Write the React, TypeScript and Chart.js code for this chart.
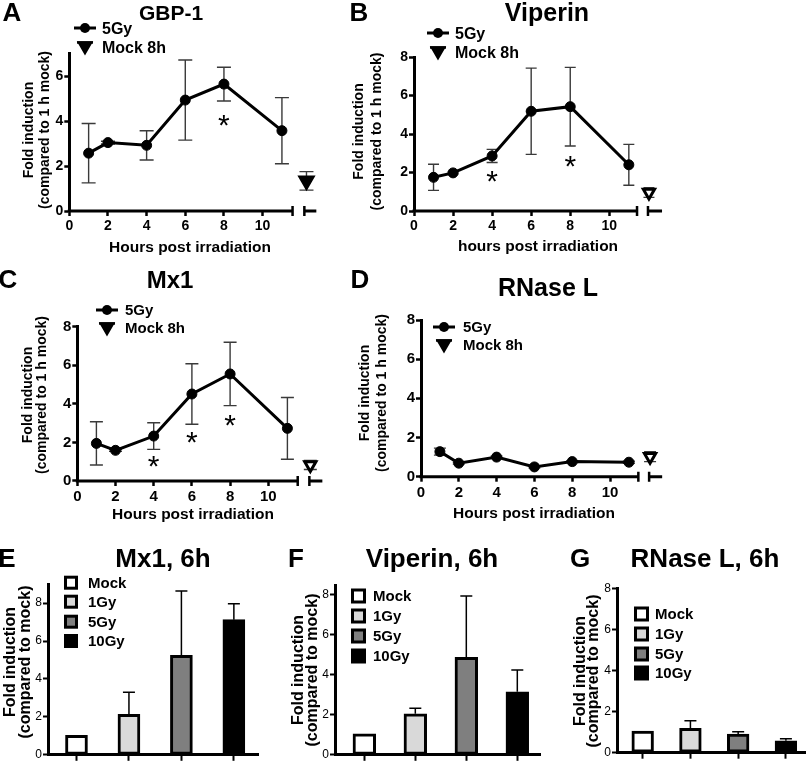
import React, { useEffect, useRef } from 'react';
import { Chart, registerables } from 'chart.js';

Chart.register(...registerables);

const PAGE_W = 812;
const PAGE_H = 763;
const SANS = '"Liberation Sans", Arial, Helvetica, sans-serif';
const NARROW = '"Liberation Sans Narrow", "Arial Narrow", "Liberation Sans", Arial, sans-serif';

// ---------------- data ----------------
const hours = [1, 2, 4, 6, 8, 11];
const hourTicks = [0, 2, 4, 6, 8, 10];
const foldTicks7 = [0, 2, 4, 6];
const foldTicks8 = [0, 2, 4, 6, 8];

const gbp1Mean = [2.57, 3.04, 2.92, 4.93, 5.64, 3.57];
const gbp1Sd = [1.32, 0.06, 0.65, 1.78, 0.75, 1.47];
const gbp1Mock = 1.34;
const gbp1MockSd = 0.41;
const gbp1StarX = [8];
const gbp1StarY = [4.13];

const viperinMean = [1.75, 1.98, 2.86, 5.18, 5.42, 2.4];
const viperinSd = [0.68, 0.05, 0.34, 2.24, 2.04, 1.06];
const viperinMock = 0.96;
const viperinMockSd = 0.25;
const viperinStarX = [4, 8];
const viperinStarY = [1.96, 2.74];

const mx1Mean = [1.95, 1.59, 2.33, 4.51, 5.55, 2.73];
const mx1Sd = [1.12, 0.05, 0.69, 1.57, 1.64, 1.6];
const mx1Mock = 0.83;
const mx1MockSd = 0.23;
const mx1StarX = [4, 6, 8];
const mx1StarY = [1.17, 2.4, 3.3];

const rnaseMean = [1.28, 0.69, 1.0, 0.5, 0.77, 0.74];
const rnaseSd = [0.18, 0.05, 0.05, 0.05, 0.05, 0.05];
const rnaseMock = 1.02;
const rnaseMockSd = 0.25;
const rnaseStarX: number[] = [];
const rnaseStarY: number[] = [];

const doseLabels = ['Mock', '1Gy', '5Gy', '10Gy'];
const doseColors = ['#ffffff', '#d9d9d9', '#7f7f7f', '#000000'];
const mx1DoseMean = [1.03, 2.14, 5.25, 7.13];
const mx1DoseSd = [0, 1.16, 3.39, 0.84];
const viperinDoseMean = [1.05, 2.05, 4.88, 3.15];
const viperinDoseSd = [0, 0.28, 3.07, 1.1];
const rnaseDoseMean = [1.05, 1.18, 0.91, 0.58];
const rnaseDoseSd = [0, 0.38, 0.11, 0.1];

// ---------------- text helpers ----------------
function capText(ctx: CanvasRenderingContext2D, s: string, x: number, cy: number, size: number, weight: string, align: CanvasTextAlign, family = SANS) {
  ctx.save();
  ctx.font = `${weight} ${size}px ${family}`;
  ctx.fillStyle = '#000';
  ctx.textAlign = align;
  ctx.textBaseline = 'alphabetic';
  ctx.fillText(s, x, cy + size * 0.358);
  ctx.restore();
}

function vText(ctx: CanvasRenderingContext2D, s: string, cx: number, cy: number, size: number, ink: number, family = SANS) {
  ctx.save();
  ctx.translate(cx + ink * size, cy);
  ctx.rotate(-Math.PI / 2);
  ctx.font = `bold ${size}px ${family}`;
  ctx.fillStyle = '#000';
  ctx.textAlign = 'center';
  ctx.textBaseline = 'alphabetic';
  ctx.fillText(s, 0, 0);
  ctx.restore();
}

function star(ctx: CanvasRenderingContext2D, x: number, cy: number) {
  const size = 30;
  ctx.save();
  ctx.font = `normal ${size}px ${SANS}`;
  ctx.fillStyle = '#000';
  ctx.textAlign = 'center';
  ctx.textBaseline = 'alphabetic';
  ctx.fillText('*', x, cy + size * 0.575);
  ctx.restore();
}

function downTriangle(ctx: CanvasRenderingContext2D, x: number, y: number, r: number, fill: string) {
  ctx.beginPath();
  ctx.moveTo(x - r * 0.866, y - r / 2);
  ctx.lineTo(x + r * 0.866, y - r / 2);
  ctx.lineTo(x, y + r);
  ctx.closePath();
  ctx.fillStyle = fill;
  ctx.fill();
  ctx.lineWidth = 3;
  ctx.strokeStyle = '#000';
  ctx.stroke();
}

// ---------------- panel layouts ----------------
type LinePanel = {
  letter: string; letterX: number; letterY: number;
  title: string; titleX: number; titleY: number; titleSize: number;
  left: number; perHour: number; xMax: number; top: number; bottom: number; yMax: number;
  yTicks: number[];
  breakAt: number; mockStart: number; mockX: number; capW: number; mockR: number; mockFill: string;
  legX: number; legTextX: number; legY1: number; legY2: number; legSize: number;
  yt1: number; yt2: number; ytY: number; ytSize: number;
  xTitle: string; xtX: number; xtY: number; xtSize: number;
  tickSize: number;
  mean: number[]; sd: number[]; mock: number; mockSd: number; starX: number[]; starY: number[];
};

const linePanels: LinePanel[] = [
  {
    letter: 'A', letterX: 12, letterY: 12, title: 'GBP-1', titleX: 171, titleY: 12, titleSize: 21,
    left: 69.3, perHour: 19.33, xMax: 12.78, top: 53.5, bottom: 211, yMax: 7, yTicks: foldTicks7,
    breakAt: 11.55, mockStart: 12.16, mockX: 12.27, capW: 14, mockR: 7.5, mockFill: '#000',
    legX: 85, legTextX: 102, legY1: 28, legY2: 47, legSize: 16,
    yt1: 27.5, yt2: 45, ytY: 130, ytSize: 14,
    xTitle: 'Hours post irradiation', xtX: 190, xtY: 246, xtSize: 15.5, tickSize: 14,
    mean: gbp1Mean, sd: gbp1Sd, mock: gbp1Mock, mockSd: gbp1MockSd, starX: gbp1StarX, starY: gbp1StarY,
  },
  {
    letter: 'B', letterX: 359, letterY: 12, title: 'Viperin', titleX: 547, titleY: 12, titleSize: 25,
    left: 414, perHour: 19.53, xMax: 12.7, top: 57, bottom: 211, yMax: 8, yTicks: foldTicks8,
    breakAt: 11.42, mockStart: 11.98, mockX: 12.03, capW: 11, mockR: 6.5, mockFill: '#fff',
    legX: 438, legTextX: 455, legY1: 33, legY2: 52, legSize: 16,
    yt1: 358, yt2: 377, ytY: 131.5, ytSize: 14,
    xTitle: 'hours post irradiation', xtX: 538, xtY: 245, xtSize: 15.5, tickSize: 14,
    mean: viperinMean, sd: viperinSd, mock: viperinMock, mockSd: viperinMockSd, starX: viperinStarX, starY: viperinStarY,
  },
  {
    letter: 'C', letterX: 8, letterY: 279, title: 'Mx1', titleX: 170, titleY: 279, titleSize: 24,
    left: 77.3, perHour: 19.1, xMax: 12.83, top: 326.7, bottom: 481, yMax: 8, yTicks: foldTicks8,
    breakAt: 11.54, mockStart: 12.15, mockX: 12.2, capW: 13, mockR: 6.5, mockFill: '#fff',
    legX: 107, legTextX: 125, legY1: 310, legY2: 328, legSize: 15,
    yt1: 26.5, yt2: 42.5, ytY: 395, ytSize: 14,
    xTitle: 'Hours post irradiation', xtX: 193, xtY: 513, xtSize: 15.5, tickSize: 15,
    mean: mx1Mean, sd: mx1Sd, mock: mx1Mock, mockSd: mx1MockSd, starX: mx1StarX, starY: mx1StarY,
  },
  {
    letter: 'D', letterX: 360, letterY: 279, title: 'RNase L', titleX: 548, titleY: 287, titleSize: 25,
    left: 421, perHour: 18.9, xMax: 12.76, top: 320, bottom: 476.7, yMax: 8, yTicks: foldTicks8,
    breakAt: 11.5, mockStart: 12.07, mockX: 12.12, capW: 12, mockR: 6.5, mockFill: '#fff',
    legX: 444, legTextX: 463, legY1: 327, legY2: 345, legSize: 15,
    yt1: 363.5, yt2: 382, ytY: 393, ytSize: 14,
    xTitle: 'Hours post irradiation', xtX: 534, xtY: 512, xtSize: 15.5, tickSize: 15,
    mean: rnaseMean, sd: rnaseSd, mock: rnaseMock, mockSd: rnaseMockSd, starX: rnaseStarX, starY: rnaseStarY,
  },
];

type BarPanel = {
  letter: string; letterX: number; letterY: number;
  title: string; titleX: number; titleY: number;
  left: number; right: number; top: number; bottom: number; yMax: number;
  xMin: number; xMax: number; barW: number;
  boxX: number; boxSize: number; legTextX: number; rows: number[];
  yt1: number; yt2: number; ytY: number;
  mean: number[]; sd: number[];
};

const barPanels: BarPanel[] = [
  {
    letter: 'E', letterX: 7, letterY: 558, title: 'Mx1, 6h', titleX: 163, titleY: 558,
    left: 48, right: 258, top: 584.2, bottom: 756.7, yMax: 9, xMin: -0.543, xMax: 3.46, barW: 22,
    boxX: 64, boxSize: 14, legTextX: 88, rows: [582.7, 601.7, 621.7, 641],
    yt1: 9, yt2: 26, ytY: 662, mean: mx1DoseMean, sd: mx1DoseSd,
  },
  {
    letter: 'F', letterX: 296, letterY: 558, title: 'Viperin, 6h', titleX: 432, titleY: 558,
    left: 335, right: 540, top: 585, bottom: 755, yMax: 8.5, xMin: -0.575, xMax: 3.445, barW: 22.7,
    boxX: 351, boxSize: 15, legTextX: 373, rows: [596, 616, 636, 656],
    yt1: 297.5, yt2: 312.5, ytY: 670, mean: viperinDoseMean, sd: viperinDoseSd,
  },
  {
    letter: 'G', letterX: 580, letterY: 558, title: 'RNase L, 6h', titleX: 705, titleY: 558,
    left: 617, right: 805, top: 588.3, bottom: 752.7, yMax: 8, xMin: -0.538, xMax: 3.4, barW: 21.7,
    boxX: 634, boxSize: 15, legTextX: 655, rows: [614, 634, 654, 673],
    yt1: 579, yt2: 594, ytY: 671, mean: rnaseDoseMean, sd: rnaseDoseSd,
  },
];

// ---------------- chart builders ----------------
function makeLine(canvas: HTMLCanvasElement, p: LinePanel): Chart {
  const right = p.left + p.xMax * p.perHour;
  const yAxisW = 45;
  const xAxisH = 40;
  const deco = {
    id: 'deco' + p.letter,
    beforeDatasetsDraw(chart: any) {
      const { ctx, chartArea } = chart;
      const xs = chart.scales.x;
      const ys = chart.scales.y;
      ctx.save();
      // broken x axis
      const yb = chartArea.bottom;
      const x0 = xs.getPixelForValue(0) - 1.5;
      const xb = xs.getPixelForValue(p.breakAt);
      const xm = xs.getPixelForValue(p.mockStart);
      const xe = xs.getPixelForValue(p.xMax);
      ctx.strokeStyle = '#000';
      ctx.lineWidth = 3;
      ctx.beginPath();
      ctx.moveTo(x0, yb); ctx.lineTo(xb, yb);
      ctx.moveTo(xm, yb); ctx.lineTo(xe, yb);
      ctx.stroke();
      ctx.lineWidth = 2.5;
      ctx.beginPath();
      ctx.moveTo(xb, yb - 5); ctx.lineTo(xb, yb + 5);
      ctx.moveTo(xm, yb - 5); ctx.lineTo(xm, yb + 5);
      ctx.stroke();
      // error bars
      ctx.strokeStyle = '#3a3a3a';
      ctx.lineWidth = 1.4;
      const bar = (xv: number, m: number, s: number) => {
        const px = xs.getPixelForValue(xv);
        const t = ys.getPixelForValue(m + s);
        const b = ys.getPixelForValue(m - s);
        ctx.beginPath();
        ctx.moveTo(px, t); ctx.lineTo(px, b);
        ctx.moveTo(px - p.capW / 2, t); ctx.lineTo(px + p.capW / 2, t);
        ctx.moveTo(px - p.capW / 2, b); ctx.lineTo(px + p.capW / 2, b);
        ctx.stroke();
      };
      hours.forEach((h, i) => bar(h, p.mean[i], p.sd[i]));
      bar(p.mockX, p.mock, p.mockSd);
      ctx.restore();
    },
    afterDraw(chart: any) {
      const { ctx } = chart;
      const xs = chart.scales.x;
      const ys = chart.scales.y;
      capText(ctx, p.letter, p.letterX, p.letterY, 26, 'bold', 'center');
      capText(ctx, p.title, p.titleX, p.titleY, p.titleSize, 'bold', 'center');
      // legend
      ctx.save();
      ctx.strokeStyle = '#000';
      ctx.fillStyle = '#000';
      ctx.lineWidth = 3;
      ctx.beginPath();
      ctx.moveTo(p.legX - 11, p.legY1); ctx.lineTo(p.legX + 11, p.legY1);
      ctx.stroke();
      ctx.beginPath();
      ctx.arc(p.legX, p.legY1, 5, 0, Math.PI * 2);
      ctx.fill();
      downTriangle(ctx, p.legX, p.legY2 - 1, 6.5, '#000');
      ctx.lineWidth = 2.5;
      ctx.beginPath();
      ctx.moveTo(p.legX - 8, p.legY2 - 4.5); ctx.lineTo(p.legX + 8, p.legY2 - 4.5);
      ctx.stroke();
      ctx.restore();
      capText(ctx, '5Gy', p.legTextX, p.legY1, p.legSize, 'bold', 'left');
      capText(ctx, 'Mock 8h', p.legTextX, p.legY2, p.legSize, 'bold', 'left');
      // axis titles
      vText(ctx, 'Fold induction', p.yt1, p.ytY, p.ytSize, 0.365);
      vText(ctx, '(compared to 1 h mock)', p.yt2, p.ytY, p.ytSize, 0.26);
      capText(ctx, p.xTitle, p.xtX, p.xtY, p.xtSize, 'bold', 'center');
      // significance stars
      p.starX.forEach((sx, i) => star(ctx, xs.getPixelForValue(sx), ys.getPixelForValue(p.starY[i])));
    },
  };

  return new Chart(canvas, {
    type: 'line',
    data: {
      datasets: [
        {
          label: '5Gy',
          data: hours.map((h, i) => ({ x: h, y: p.mean[i] })),
          borderColor: '#000',
          borderWidth: 3,
          pointRadius: 5,
          pointBackgroundColor: '#000',
          pointBorderColor: '#000',
          pointBorderWidth: 1,
          tension: 0,
        },
        {
          label: 'Mock 8h',
          data: [{ x: p.mockX, y: p.mock }],
          showLine: false,
          pointStyle: 'triangle',
          rotation: 180,
          pointRadius: p.mockR,
          pointBackgroundColor: p.mockFill,
          pointBorderColor: '#000',
          pointBorderWidth: 3,
        },
      ],
    } as any,
    options: {
      animation: false,
      responsive: false,
      devicePixelRatio: 1,
      events: [],
      layout: {
        padding: {
          left: p.left - yAxisW,
          top: p.top,
          right: PAGE_W - right,
          bottom: PAGE_H - p.bottom - xAxisH,
        },
      },
      plugins: { legend: { display: false }, tooltip: { enabled: false }, title: { display: false } },
      scales: {
        x: {
          type: 'linear',
          min: 0,
          max: p.xMax,
          border: { display: false },
          grid: { drawOnChartArea: false, drawTicks: true, tickLength: 5, tickWidth: 2.5, tickColor: '#000' },
          ticks: { color: '#000', font: { family: SANS, size: p.tickSize, weight: 'bold' }, padding: 2, maxRotation: 0, autoSkip: false, includeBounds: false },
          afterBuildTicks: (axis: any) => { axis.ticks = hourTicks.map((v) => ({ value: v })); },
          afterFit: (s: any) => { s.height = xAxisH; },
        },
        y: {
          min: 0,
          max: p.yMax,
          border: { display: true, width: 3, color: '#000' },
          grid: { drawOnChartArea: false, drawTicks: true, tickLength: 5, tickWidth: 2.5, tickColor: '#000' },
          ticks: { color: '#000', font: { family: SANS, size: p.tickSize, weight: 'bold' }, padding: 1, includeBounds: false },
          afterBuildTicks: (axis: any) => { axis.ticks = p.yTicks.map((v) => ({ value: v })); },
          afterFit: (s: any) => { s.width = yAxisW; },
        },
      },
    } as any,
    plugins: [deco],
  });
}

function makeBar(canvas: HTMLCanvasElement, p: BarPanel): Chart {
  const yAxisW = 40;
  const xAxisH = 6;
  const deco = {
    id: 'bdeco' + p.letter,
    afterDatasetsDraw(chart: any) {
      const { ctx } = chart;
      const xs = chart.scales.x;
      const ys = chart.scales.y;
      ctx.save();
      ctx.strokeStyle = '#000';
      ctx.lineWidth = 1.5;
      p.mean.forEach((m, i) => {
        if (p.sd[i] <= 0) return;
        const px = xs.getPixelForValue(i);
        const t = ys.getPixelForValue(m + p.sd[i]);
        const b = ys.getPixelForValue(m);
        ctx.beginPath();
        ctx.moveTo(px, b); ctx.lineTo(px, t);
        ctx.moveTo(px - 6, t); ctx.lineTo(px + 6, t);
        ctx.stroke();
      });
      ctx.restore();
    },
    afterDraw(chart: any) {
      const { ctx } = chart;
      capText(ctx, p.letter, p.letterX, p.letterY, 26, 'bold', 'center');
      capText(ctx, p.title, p.titleX, p.titleY, 26, 'bold', 'center');
      // legend
      doseLabels.forEach((lab, i) => {
        const cy = p.rows[i];
        const s = p.boxSize;
        ctx.save();
        ctx.fillStyle = '#000';
        ctx.fillRect(p.boxX, cy - s / 2, s, s);
        ctx.fillStyle = doseColors[i];
        ctx.fillRect(p.boxX + 3, cy - s / 2 + 3, s - 6, s - 6);
        ctx.restore();
        capText(ctx, lab, p.legTextX, cy, 15, 'bold', 'left', NARROW);
      });
      vText(ctx, 'Fold induction', p.yt1, p.ytY, 16, 0.365);
      vText(ctx, '(compared to mock)', p.yt2, p.ytY, 16, 0.26);
    },
  };

  return new Chart(canvas, {
    type: 'bar',
    data: {
      datasets: [
        {
          label: 'dose',
          data: p.mean.map((v, i) => ({ x: i, y: v })),
          backgroundColor: doseColors,
          borderColor: '#000',
          borderWidth: 3,
          borderSkipped: false,
          barThickness: p.barW,
        },
      ],
    } as any,
    options: {
      animation: false,
      responsive: false,
      devicePixelRatio: 1,
      events: [],
      layout: {
        padding: {
          left: p.left - yAxisW,
          top: p.top,
          right: PAGE_W - p.right,
          bottom: PAGE_H - p.bottom - xAxisH,
        },
      },
      plugins: { legend: { display: false }, tooltip: { enabled: false }, title: { display: false } },
      scales: {
        x: {
          type: 'linear',
          min: p.xMin,
          max: p.xMax,
          offset: false,
          border: { display: true, width: 3, color: '#000' },
          grid: { offset: false, drawOnChartArea: false, drawTicks: true, tickLength: 6, tickWidth: 2, tickColor: '#000' },
          ticks: { display: false },
          afterBuildTicks: (axis: any) => { axis.ticks = doseLabels.map((_, i) => ({ value: i })); },
          afterFit: (s: any) => { s.height = xAxisH; },
        },
        y: {
          min: 0,
          max: p.yMax,
          border: { display: true, width: 3, color: '#000' },
          grid: { drawOnChartArea: false, drawTicks: true, tickLength: 5, tickWidth: 2, tickColor: '#000' },
          ticks: { color: '#000', font: { family: NARROW, size: 12 }, padding: 1, includeBounds: false },
          afterBuildTicks: (axis: any) => { axis.ticks = foldTicks8.map((v) => ({ value: v })); },
          afterFit: (s: any) => { s.width = yAxisW; },
        },
      },
    } as any,
    plugins: [deco],
  });
}

function Panel({ build }: { build: (c: HTMLCanvasElement) => Chart }) {
  const ref = useRef<HTMLCanvasElement>(null);
  useEffect(() => {
    if (!ref.current) return;
    const chart = build(ref.current);
    return () => chart.destroy();
  }, []);
  return (
    <canvas
      ref={ref}
      width={PAGE_W}
      height={PAGE_H}
      style={{ position: 'absolute', left: 0, top: 0, width: PAGE_W, height: PAGE_H }}
    />
  );
}

export default function App() {
  return (
    <div style={{ position: 'absolute', left: 0, top: 0, width: PAGE_W, height: PAGE_H, background: '#fff', overflow: 'hidden' }}>
      {linePanels.map((p) => (
        <Panel key={p.letter} build={(c) => makeLine(c, p)} />
      ))}
      {barPanels.map((p) => (
        <Panel key={p.letter} build={(c) => makeBar(c, p)} />
      ))}
    </div>
  );
}
